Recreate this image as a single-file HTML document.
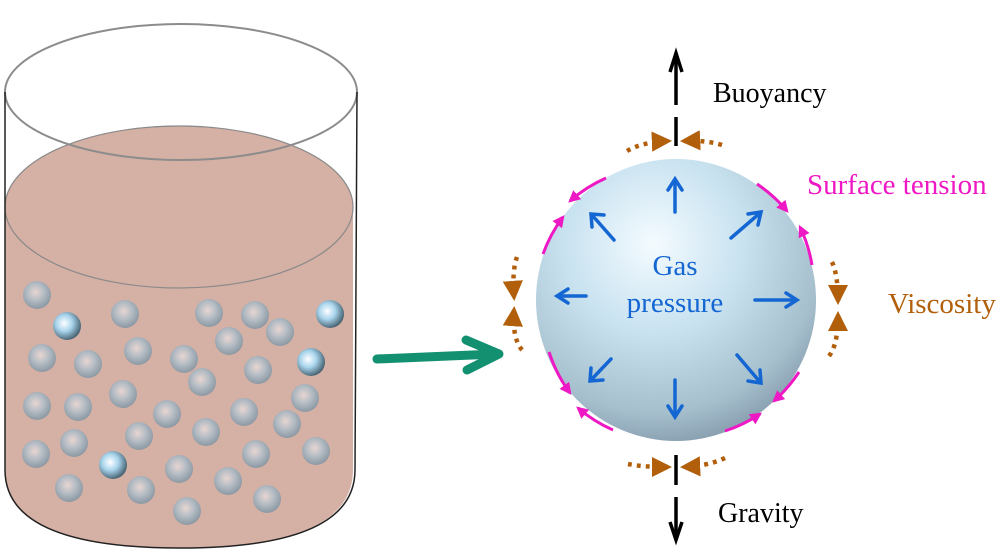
<!DOCTYPE html>
<html><head><meta charset="utf-8"><style>
html,body{margin:0;padding:0;background:#fff;}
svg{display:block;}
text{font-family:"Liberation Serif",serif;}
</style></head><body>
<svg width="999" height="553" viewBox="0 0 999 553" xmlns="http://www.w3.org/2000/svg">
<defs>
<radialGradient id="ball" cx="0.45" cy="0.4" r="0.6">
<stop offset="0" stop-color="#e8d6d2"/><stop offset="0.5" stop-color="#b4bcc4"/><stop offset="1" stop-color="#8b98a3"/>
</radialGradient>
<radialGradient id="bball" cx="0.4" cy="0.4" r="0.65">
<stop offset="0" stop-color="#ffffff"/><stop offset="0.45" stop-color="#a8d4ec"/><stop offset="1" stop-color="#3e5866"/>
</radialGradient>
<radialGradient id="sph" cx="0.42" cy="0.3" r="0.8">
<stop offset="0" stop-color="#f4fbff"/><stop offset="0.4" stop-color="#c8e2f0"/><stop offset="0.75" stop-color="#a6bfcd"/><stop offset="1" stop-color="#72899a"/>
</radialGradient>
<marker id="mb" viewBox="0 0 10 10" refX="8" refY="5" markerWidth="4.5" markerHeight="4.5" orient="auto"><path d="M0,0 L10,5 L0,10 Z" fill="#b25f0b"/></marker>
<marker id="mm" viewBox="0 0 10 10" refX="8" refY="5" markerWidth="4" markerHeight="4" orient="auto"><path d="M0,0 L10,5 L0,10 Z" fill="#ee18c4"/></marker>
</defs>
<!-- beaker -->
<path d="M5,207 A174,81 0 0 1 353,207 L353,470 Q353,548 180,548 Q5,548 5,470 Z" fill="#d5b0a4"/>
<ellipse cx="179" cy="207" rx="174" ry="81" fill="none" stroke="#8a8a8a" stroke-width="1.2"/>
<ellipse cx="181" cy="92" rx="176" ry="68" fill="none" stroke="#8c8c8c" stroke-width="2"/>
<path d="M5,92 L5,470 Q5,548 180,548 Q355,548 355,470 L357,92" fill="none" stroke="#222" stroke-width="1.5"/>
<g fill="url(#ball)">
<circle cx="37" cy="295" r="14"/><circle cx="125" cy="314" r="14"/><circle cx="209" cy="313" r="14"/><circle cx="255" cy="315" r="14"/><circle cx="280" cy="332" r="14"/><circle cx="229" cy="341" r="14"/><circle cx="42" cy="358" r="14"/><circle cx="88" cy="364" r="14"/><circle cx="138" cy="351" r="14"/><circle cx="184" cy="359" r="14"/><circle cx="258" cy="370" r="14"/><circle cx="202" cy="382" r="14"/><circle cx="37" cy="406" r="14"/><circle cx="78" cy="407" r="14"/><circle cx="123" cy="394" r="14"/><circle cx="167" cy="414" r="14"/><circle cx="244" cy="412" r="14"/><circle cx="305" cy="398" r="14"/><circle cx="287" cy="424" r="14"/><circle cx="139" cy="436" r="14"/><circle cx="206" cy="432" r="14"/><circle cx="36" cy="454" r="14"/><circle cx="74" cy="443" r="14"/><circle cx="179" cy="469" r="14"/><circle cx="256" cy="454" r="14"/><circle cx="316" cy="451" r="14"/><circle cx="69" cy="488" r="14"/><circle cx="141" cy="490" r="14"/><circle cx="228" cy="481" r="14"/><circle cx="267" cy="499" r="14"/><circle cx="187" cy="511" r="14"/>
</g>
<g fill="url(#bball)">
<circle cx="67" cy="326" r="14"/><circle cx="330" cy="314" r="14"/><circle cx="311" cy="362" r="14"/><circle cx="113" cy="465" r="14"/>
</g>
<!-- green arrow -->
<g stroke="#129070" stroke-width="9" stroke-linecap="round" stroke-linejoin="round" fill="none">
<line x1="377" y1="359" x2="496" y2="354"/><polyline points="466,340 499,354 467,370"/>
</g>
<!-- sphere -->
<ellipse cx="676" cy="300" rx="140" ry="141" fill="url(#sph)"/>
<!-- blue arrows -->
<g stroke="#1466d2" stroke-width="3.5" fill="none" stroke-linecap="round">
<line x1="675" y1="212" x2="675" y2="180"/><polyline points="668,190 675,179 682,190"/>
<line x1="675" y1="380" x2="675" y2="416"/><polyline points="668,406 675,417 682,406"/>
<line x1="755" y1="300" x2="796" y2="300"/><polyline points="786,293 797,300 786,307"/>
<line x1="586" y1="296" x2="558" y2="296"/><polyline points="568,289 557,296 568,303"/>
<line x1="731" y1="238" x2="760" y2="213"/><polyline points="748,214 761,212 758,225"/>
<line x1="614" y1="240" x2="592" y2="215"/><polyline points="592,227 591,214 604,215"/>
<line x1="611" y1="359" x2="591" y2="380"/><polyline points="591,368 590,381 603,380"/>
<line x1="737" y1="355" x2="760" y2="382"/><polyline points="748,381 761,383 760,370"/>
</g>
<text x="675" y="275" font-size="29" fill="#1466d2" text-anchor="middle">Gas</text>
<text x="675" y="312" font-size="29" fill="#1466d2" text-anchor="middle">pressure</text>
<!-- magenta arcs -->
<g stroke="#ee18c4" stroke-width="3" fill="none" marker-end="url(#mm)">
<path d="M606,178 A142,142 0 0 0 570,201"/>
<path d="M543,254 A142,142 0 0 1 563,217"/>
<path d="M757,184 A142,142 0 0 1 787,211"/>
<path d="M812,265 A142,142 0 0 0 800,227"/>
<path d="M549,352 A142,142 0 0 0 570,393"/>
<path d="M613,430 A142,142 0 0 1 578,408"/>
<path d="M799,372 A142,142 0 0 1 774,401"/>
<path d="M725,431 A142,142 0 0 0 760,414"/>
</g>
<!-- brown dotted arrows -->
<g stroke="#b25f0b" stroke-width="4.5" fill="none" stroke-dasharray="4,5" marker-end="url(#mb)">
<path d="M627,151 Q642,142 668,141"/>
<path d="M722,145 Q706,140 684,141"/>
<path d="M628,464 Q642,467 668,467"/>
<path d="M725,458 Q708,466 684,467"/>
<path d="M517,257 Q512,270 514,297"/>
<path d="M522,350 Q512,338 514,310"/>
<path d="M832,262 Q838,275 838,301"/>
<path d="M829,356 Q838,345 838,315"/>
</g>
<!-- black force arrows -->
<g stroke="#000" stroke-width="3.5" fill="none">
<line x1="676" y1="117" x2="676" y2="146"/>
<line x1="676" y1="105" x2="676" y2="56"/><polyline points="670,72 676,53 682,72"/>
<line x1="676" y1="455" x2="676" y2="485"/>
<line x1="676" y1="497" x2="676" y2="538"/><polyline points="670,522 676,540 682,522"/>
</g>
<text x="713" y="102" font-size="28" fill="#000">Buoyancy</text>
<text x="718" y="522" font-size="28" fill="#000">Gravity</text>
<text x="807" y="194" font-size="29" fill="#ee18c4">Surface tension</text>
<text x="888" y="313" font-size="29" fill="#b25f0b">Viscosity</text>
</svg>
</body></html>
